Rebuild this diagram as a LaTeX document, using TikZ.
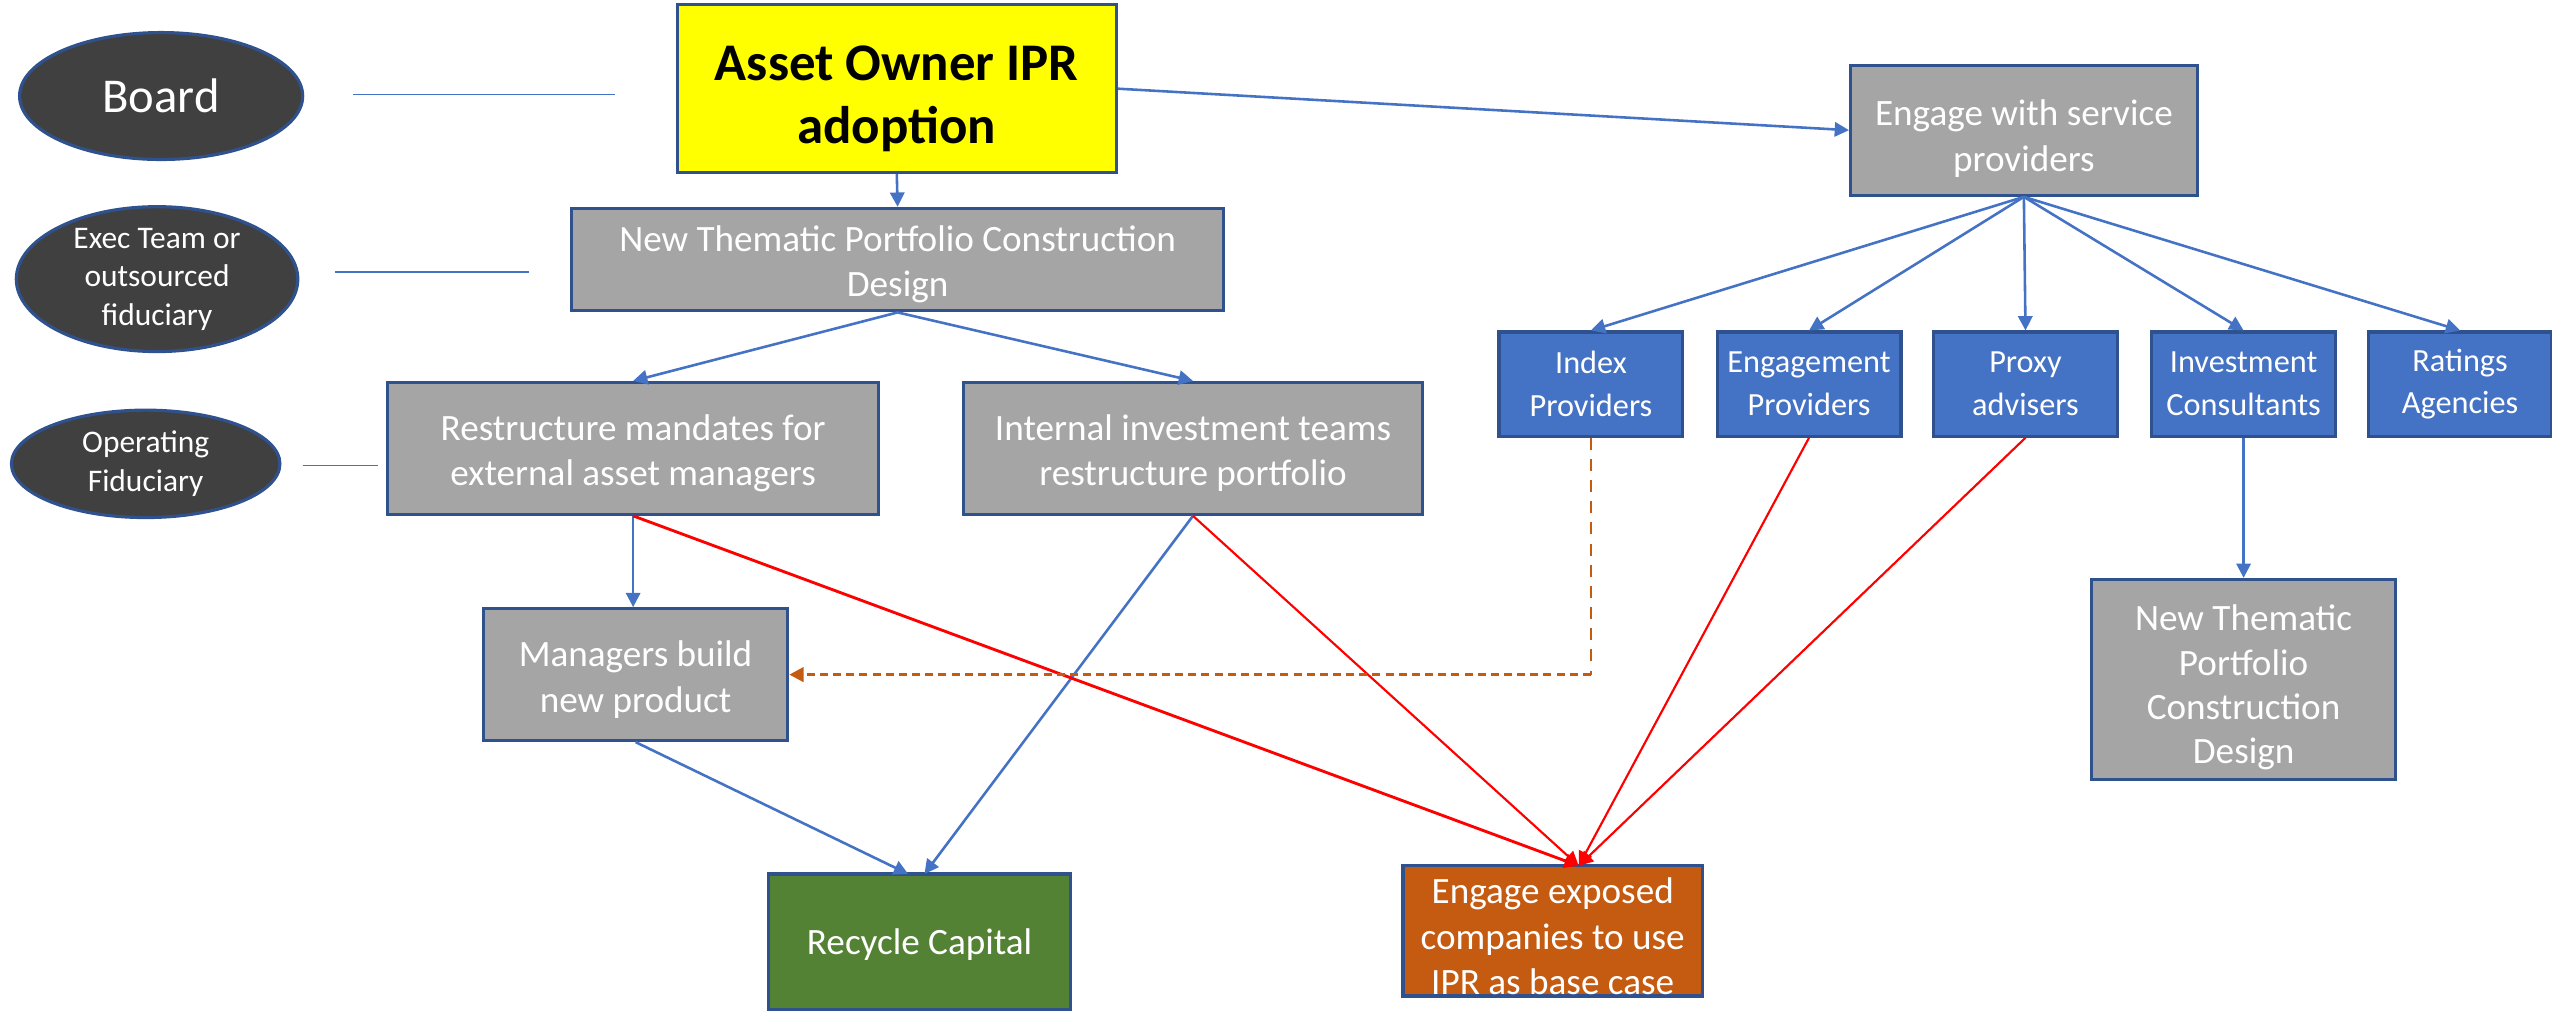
\documentclass[tikz,border=0pt]{standalone}
\usepackage{fontspec}
\setmainfont{Carlito}
\usetikzlibrary{shapes.geometric,arrows.meta,calc}
\definecolor{obord}{HTML}{2F528F}
\definecolor{oblue}{HTML}{4472C4}
\definecolor{ogray}{HTML}{A5A5A5}
\definecolor{ogreen}{HTML}{548235}
\definecolor{oorange}{HTML}{C55A11}
\definecolor{odark}{HTML}{404040}
\definecolor{ored}{HTML}{FF0000}
\definecolor{oyellow}{HTML}{FFFF00}
\newcommand\myStrut[1]{\rule{0pt}{#1}}
\begin{document}
\begin{tikzpicture}[x=0.02cm,y=-0.02cm,
  box/.style={draw=obord,line width=1.1pt,fill=ogray,text=white,align=center,inner sep=0pt,
    font=\fontsize{13}{16}\selectfont},
  bluebox/.style={box,fill=oblue,minimum width=2.26cm,minimum height=1.28cm,
    font=\fontsize{11.3}{15}\selectfont},
  role/.style={ellipse,draw=obord,line width=1.1pt,fill=odark,text=white,align=center,inner sep=0pt},
  conn/.style={draw=oblue,line width=0.9pt,-{Triangle[length=5pt,width=5pt]}},
  redconn/.style={draw=ored,line width=0.75pt,-{Triangle[length=5pt,width=5pt]}},
  guide/.style={draw=oblue,line width=0.6pt},
]
\useasboundingbox (0,0) rectangle (1568,621);

% role ellipses
\node[role,minimum width=3.48cm,minimum height=1.56cm,font=\fontsize{17}{20}\selectfont] (board) at (99,59) {Board};
\node[role,minimum width=3.46cm,minimum height=1.78cm,font=\fontsize{11}{13.5}\selectfont] (exec) at (96.5,171.5) {Exec Team or\\outsourced\\fiduciary};
\node[role,minimum width=3.3cm,minimum height=1.32cm,font=\fontsize{11}{13.5}\selectfont] (oper) at (89.5,285) {Operating\\Fiduciary};

% guide lines
\coordinate (g1a) at (217,58); \coordinate (g1b) at (378,58);
\coordinate (g2a) at (206,167); \coordinate (g2b) at (325,167);
\coordinate (g3a) at (186,286); \coordinate (g3b) at (232,286);
\draw[guide] (g1a) -- (g1b);
\draw[guide] (g2a) -- (g2b);
\draw[guide] (g3a) -- (g3b);

% main boxes
\node[box,fill=oyellow,text=black,minimum width=5.4cm,minimum height=2.06cm,
  font=\fontsize{18.5}{22}\selectfont\bfseries] (ipr) at (551,54.5) {\myStrut{19pt}Asset Owner IPR\\adoption};
\node[box,minimum width=8.02cm,minimum height=1.26cm] (ntpc) at (551.5,159.5) {\myStrut{12.4pt}New Thematic Portfolio Construction\\Design};
\node[box,minimum width=4.26cm,minimum height=1.6cm] (esp) at (1243.5,80) {\myStrut{14.7pt}Engage with service\\providers};
\node[box,minimum width=6.04cm,minimum height=1.62cm] (rm) at (389,275.5) {\myStrut{12.4pt}Restructure mandates for\\external asset managers};
\node[box,minimum width=5.64cm,minimum height=1.62cm] (iit) at (733,275.5) {\myStrut{12.4pt}Internal investment teams\\restructure portfolio};
\node[box,minimum width=3.74cm,minimum height=1.62cm] (mbp) at (390.5,414.5) {\myStrut{12.4pt}Managers build\\new product};
\node[box,fill=ogreen,minimum width=3.72cm,minimum height=1.66cm] (rc) at (565,578.5) {\myStrut{11.5pt}Recycle Capital};
\node[box,fill=oorange,minimum width=3.68cm,minimum height=1.6cm] (eec) at (954,572) {\myStrut{12.8pt}Engage exposed\\companies to use\\IPR as base case};

% provider boxes
\node[bluebox] (ip) at (977.5,236) {Index\\Providers};
\node[bluebox] (ep) at (1111.5,236) {Engagement\\Providers};
\node[bluebox] (pa) at (1244.5,236) {Proxy\\advisers};
\node[bluebox] (ic) at (1378.5,236) {Investment\\Consultants};
\node[bluebox] (ra) at (1511.5,236) {Ratings\\Agencies};
\node[box,minimum width=3.74cm,minimum height=2.46cm,font=\fontsize{13}{15.5}\selectfont] (ntpc2) at (1378.5,417.5) {\myStrut{14.7pt}New Thematic\\Portfolio\\Construction\\Design};

% connectors
\draw[conn] (ipr.south) -- (ntpc.north);
\draw[conn] (ipr.east) -- (esp.west);
\draw[conn] (ntpc.south) -- (rm.north);
\draw[conn] (ntpc.south) -- (iit.north);
\draw[conn] (esp.south) -- (ip.north);
\draw[conn] (esp.south) -- (ep.north);
\draw[conn] (esp.south) -- (pa.north);
\draw[conn] (esp.south) -- (ic.north);
\draw[conn] (esp.south) -- (ra.north);
\draw[conn] (ic.south) -- (ntpc2.north);
\draw[conn] (rm.south) -- (mbp.north -| rm.south);

\coordinate (rcin1) at (558,537);
\coordinate (rcin2) at (568,537);
\coordinate (eecin) at (970,532);
\draw[conn] (mbp.south) -- (rcin1);
\draw[conn] (iit.south) -- (rcin2);
\draw[redconn,line width=1pt] (rm.south) -- (eecin);
\draw[redconn] (iit.south) -- (eecin);
\draw[redconn] (ep.south) -- (eecin);
\draw[redconn] (pa.south) -- (eecin);

% dashed index provider link
\coordinate (ipcorner) at (ip.south |- mbp.east);
\draw[draw=oorange,line width=0.75pt,dash pattern=on 4.2pt off 3.2pt] (ip.south) -- (ipcorner);
\draw[draw=oorange,line width=1.1pt,dash pattern=on 2.8pt off 1.8pt,-{Triangle[length=5pt,width=5pt]}] (ipcorner) -- (mbp.east);
\end{tikzpicture}
\end{document}
